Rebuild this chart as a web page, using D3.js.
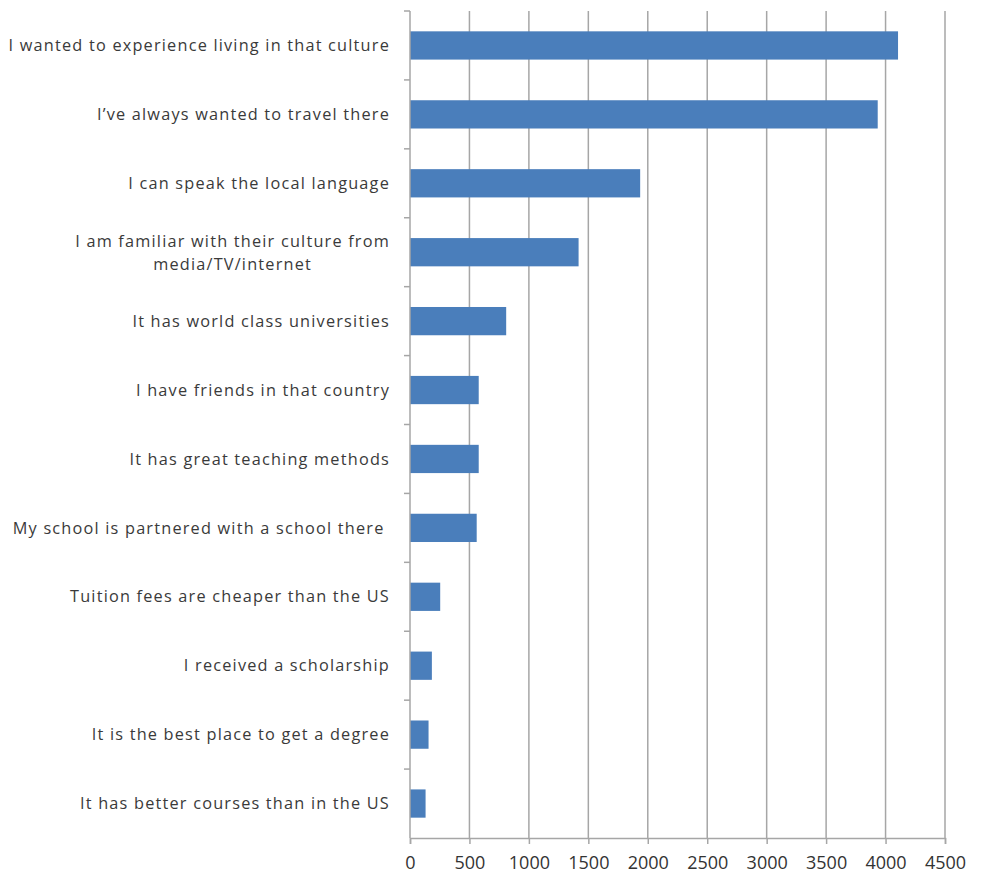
<!DOCTYPE html>
<html>
<head>
<meta charset="utf-8">
<script src="https://cdn.jsdelivr.net/npm/d3@7/dist/d3.min.js"></script>
<style>
  html, body { margin: 0; padding: 0; background: #fff; }
  svg { display: block; }
</style>
</head>
<body>
<div id="chart"></div>
<script>
const categories = [
  "I wanted to experience living in that culture",
  "I’ve always wanted to travel there",
  "I can speak the local language",
  "I am familiar with their culture from|media/TV/internet",
  "It has world class universities",
  "I have friends in that country",
  "It has great teaching methods",
  "My school is partnered with a school there ",
  "Tuition fees are cheaper than the US",
  "I received a scholarship",
  "It is the best place to get a degree",
  "It has better courses than in the US"
];
const values = [4105, 3934, 1936, 1418, 809, 578, 578, 561, 254, 184, 156, 131];
const xTicks = [0, 500, 1000, 1500, 2000, 2500, 3000, 3500, 4000, 4500];

const W = 982, H = 884;
const margin = { left: 410, right: 37, top: 11, bottom: 46 };

const svg = d3.select("#chart").append("svg").attr("width", W).attr("height", H);

const x = d3.scaleLinear().domain([0, 4500]).range([margin.left, W - margin.right]);
const y = d3.scaleBand().domain(categories).range([margin.top, H - margin.bottom])
  .paddingInner(0.59).paddingOuter(0.295);

const gridColor = "#a6a6a6";

// gridlines
svg.append("g").selectAll("line").data(xTicks.slice(1)).join("line")
  .attr("x1", d => x(d)).attr("x2", d => x(d))
  .attr("y1", margin.top).attr("y2", H - margin.bottom)
  .attr("stroke", gridColor).attr("stroke-width", 1.5);

// bars
svg.append("g").selectAll("rect").data(values).join("rect")
  .attr("x", x(0))
  .attr("y", (d, i) => y(categories[i]))
  .attr("width", d => x(d) - x(0))
  .attr("height", y.bandwidth())
  .attr("fill", "#4a7ebb");

// x axis
const xAxis = svg.append("g").attr("transform", `translate(0,${H - margin.bottom})`)
  .call(d3.axisBottom(x).tickValues(xTicks).tickSize(6).tickPadding(12).tickFormat(d3.format("d")));
xAxis.select(".domain").attr("stroke", gridColor).attr("stroke-width", 1.5);
xAxis.selectAll(".tick line").attr("stroke", gridColor).attr("stroke-width", 1.5);
xAxis.selectAll("text").attr("font-family", "'Open Sans', sans-serif").attr("font-size", 18).attr("fill", "#333");

// y axis line and tick marks at band boundaries
const step = y.step();
const boundaries = d3.range(categories.length + 1).map(i => margin.top + i * step);
svg.append("line")
  .attr("x1", x(0)).attr("x2", x(0))
  .attr("y1", margin.top).attr("y2", H - margin.bottom)
  .attr("stroke", gridColor).attr("stroke-width", 1.5);
svg.append("g").selectAll("line").data(boundaries.slice(0, -1)).join("line")
  .attr("x1", x(0) - 6).attr("x2", x(0))
  .attr("y1", d => d).attr("y2", d => d)
  .attr("stroke", gridColor).attr("stroke-width", 1.5);

// category labels
const labels = svg.append("g")
  .attr("font-family", "'Open Sans', sans-serif")
  .attr("font-size", 16.3)
  .attr("letter-spacing", "1.2px")
  .attr("fill", "#3a3a3a")
  .attr("text-anchor", "end");
const lx = x(0) - 20;
categories.forEach(c => {
  const lines = c.split("|");
  const cy = y(c) + y.bandwidth() / 2;
  if (lines.length === 1) {
    labels.append("text")
      .attr("x", lx).attr("y", cy).attr("dy", "0.35em")
      .style("white-space", "pre")
      .text(c);
  } else {
    const t1 = labels.append("text")
      .attr("x", lx).attr("y", cy - 11).attr("dy", "0.35em").text(lines[0]);
    const t2 = labels.append("text")
      .attr("y", cy + 12).attr("dy", "0.35em").text(lines[1]);
    const w1 = t1.node().getComputedTextLength();
    const w2 = t2.node().getComputedTextLength();
    t2.attr("x", lx - (w1 - w2) / 2);
  }
});
</script>
</body>
</html>
